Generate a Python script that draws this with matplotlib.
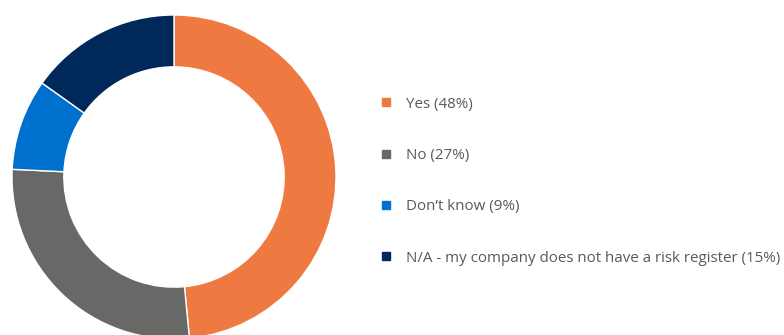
import matplotlib
matplotlib.use("Agg")
from matplotlib import pyplot as plt
from matplotlib.lines import Line2D

labels = ["Yes (48%)", "No (27%)", "Don\u2019t know (9%)",
          "N/A - my company does not have a risk register (15%)"]
values = [48, 27, 9, 15]
colours = ["#EE7941", "#686966", "#0070CF", "#00285A"]

plt.rcParams["font.family"] = ["Open Sans", "DejaVu Sans"]

fig = plt.figure(figsize=(7.84, 3.35), dpi=100)
ax = fig.add_axes([12 / 784, -4 / 335, 324 / 784, 324 / 335])

ax.pie(values, colors=colours, startangle=90, counterclock=False, radius=1,
       wedgeprops=dict(width=0.32, edgecolor="white", linewidth=1))
ax.set_xlim(-1, 1)
ax.set_ylim(-1, 1)
ax.set_aspect("equal")
ax.axis("off")

handles = [Line2D([], [], linestyle="none", marker="s", markersize=5.5,
                  markerfacecolor=c, markeredgecolor=c) for c in colours]
fig.legend(handles, labels, loc="upper left", bbox_to_anchor=(373 / 784, 1 - 89 / 335),
           frameon=False, fontsize=10.9, labelcolor="#595959", labelspacing=2.4,
           handlelength=0.7, handletextpad=0.95, borderpad=0)

fig.savefig("out.png", dpi=100, facecolor="white")
